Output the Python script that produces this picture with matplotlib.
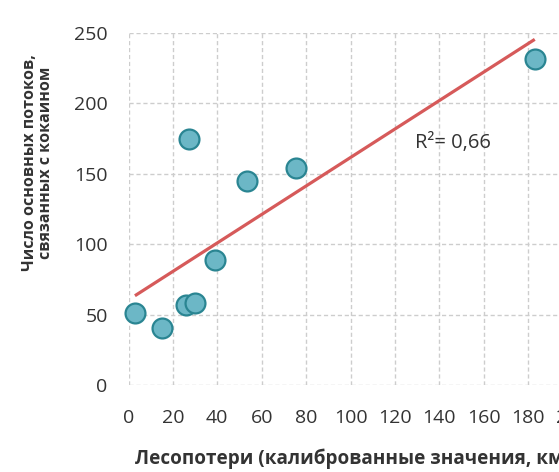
import numpy as np
import matplotlib
matplotlib.use("Agg")
import matplotlib.pyplot as plt

# Forest loss vs. number of major cocaine flows
forest_loss = [2.9, 15.0, 25.9, 30.0, 39.0, 27.2, 53.3, 75.5, 183.0]
cocaine_flows = [51.0, 40.5, 57.0, 58.0, 89.0, 175.0, 145.0, 154.0, 231.5]

x_ticks = [0, 20, 40, 60, 80, 100, 120, 140, 160, 180, 200]
y_ticks = [0, 50, 100, 150, 200, 250]

plt.rcParams["font.family"] = ["Open Sans", "DejaVu Sans"]
text_color = "#333333"

W, H = 559, 472
fig = plt.figure(figsize=(W / 100, H / 100), dpi=100)
fig.patch.set_facecolor("white")

left_px, right_px, top_px, bottom_px = 128.5, 572.5, 33, 385
ax = fig.add_axes([left_px / W, 1 - bottom_px / H,
                   (right_px - left_px) / W, (bottom_px - top_px) / H])
ax.set_xlim(0, 200)
ax.set_ylim(0, 250)
ax.set_xticks(x_ticks)
ax.set_yticks(y_ticks)
ax.tick_params(length=0, labelsize=14, colors=text_color, pad=15)
ax.tick_params(axis="x", pad=17)
for s in ax.spines.values():
    s.set_visible(False)
ax.grid(True, color="#cdcdcd", linestyle=(0, (3, 2)), linewidth=1.0)
ax.set_axisbelow(True)

# Linear trend line fitted to the points
x = np.array(forest_loss)
y = np.array(cocaine_flows)
slope, intercept = np.polyfit(x, y, 1)
pred = slope * x + intercept
r2 = 1 - np.sum((y - pred) ** 2) / np.sum((y - y.mean()) ** 2)
xs = np.array([x.min(), x.max()])
ax.plot(xs, slope * xs + intercept, color="#d65a5a", linewidth=2.3,
        solid_capstyle="butt", zorder=2)

ax.scatter(x, y, s=205, facecolor="#6cb7c6", edgecolor="#2a8592",
           linewidth=1.6, zorder=3, clip_on=False)

ax.text(129, 172, f"R²= {r2:.2f}".replace(".", ","), fontsize=14.5,
        color=text_color, ha="left", va="center")

fig.text(38 / W, 1 - 163 / H,
         "Число основных потоков,\nсвязанных с кокаином",
         rotation=90, ha="center", va="center", multialignment="center",
         fontsize=11.5, fontweight="bold", color=text_color, linespacing=1.05)
fig.text(135 / W, 1 - 459 / H,
         "Лесопотери (калиброванные значения, км²)",
         ha="left", va="center", fontsize=13.6, fontweight="bold",
         color=text_color)

fig.savefig("out.png", dpi=100, facecolor="white")
